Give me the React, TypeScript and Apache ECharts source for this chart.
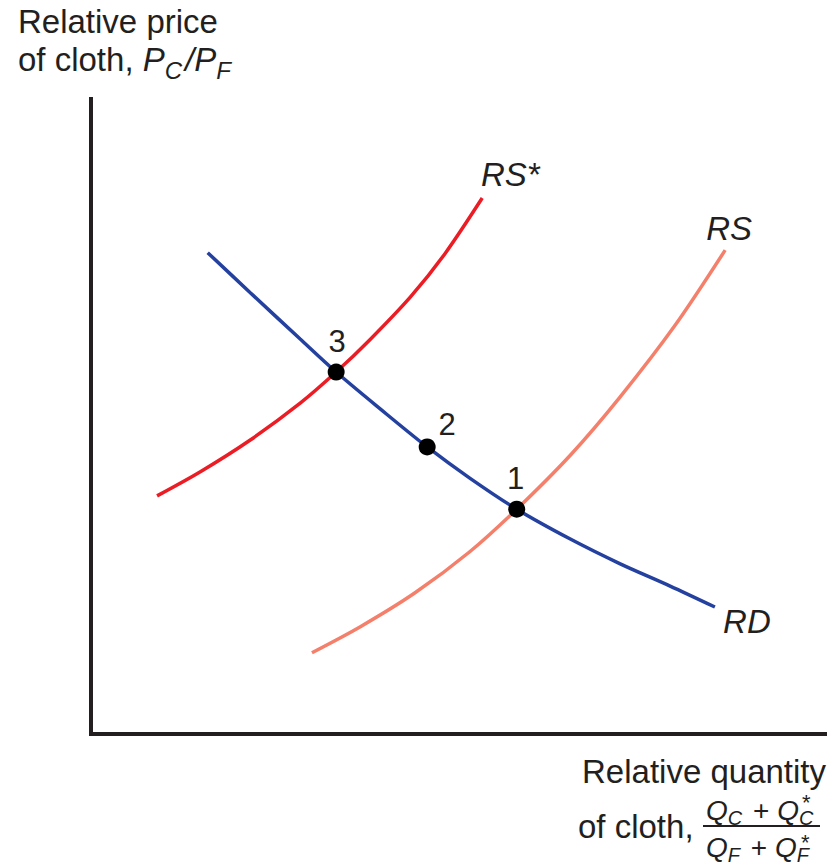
import React, { useEffect, useRef } from 'react';
import * as echarts from 'echarts';

// Relative demand RD
const rdX = [1.59, 2.17, 2.85, 3.34, 3.94, 4.58, 5.16, 5.80, 6.53, 7.21, 7.89, 8.50];
const rdY = [7.58, 6.95, 6.22, 5.70, 5.12, 4.52, 4.03, 3.54, 3.07, 2.68, 2.33, 2.00];
// Relative supply after change RS*
const rsStarX = [0.90, 1.49, 2.17, 2.85, 3.34, 3.80, 4.35, 4.82, 5.33];
const rsStarY = [3.75, 4.13, 4.63, 5.21, 5.70, 6.21, 6.88, 7.56, 8.44];
// Relative supply RS
const rsX = [3.01, 3.67, 4.41, 5.16, 5.80, 6.53, 7.21, 7.96, 8.64];
const rsY = [1.28, 1.69, 2.22, 2.87, 3.54, 4.39, 5.31, 6.44, 7.62];
// Equilibrium points
const eqNames = ['3', '2', '1'];
const eqX = [3.34, 4.58, 5.80];
const eqY = [5.70, 4.52, 3.54];
const curveNames = ['RD', 'RS*', 'RS'];

const FONT = '"Liberation Sans", Arial, Helvetica, sans-serif';
const INK = '#231f20';

const zip = (xs: number[], ys: number[]) => xs.map((x, i) => [x, ys[i]]);

export default function App() {
  const ref = useRef<HTMLDivElement>(null);
  useEffect(() => {
    if (!ref.current) return;
    const chart = echarts.init(ref.current, undefined, { renderer: 'svg' });
    const axisCommon = {
      type: 'value' as const,
      min: 0,
      max: 10,
      axisLine: { show: true, onZero: false, lineStyle: { color: INK, width: 4, cap: 'square' } },
      axisTick: { show: false },
      axisLabel: { show: false },
      splitLine: { show: false },
    };
    const endLabel = (text: string, offset: number[]) => ({
      show: true,
      formatter: text,
      fontFamily: FONT,
      fontSize: 33,
      fontStyle: 'italic',
      color: INK,
      align: 'center',
      verticalAlign: 'middle',
      distance: 0,
      offset,
    });
    const sub = (size: number, pad: number, lh: number) => ({
      fontFamily: FONT, fontStyle: 'italic', fontSize: size, fill: INK, color: INK, lineHeight: lh, padding: [pad, 3, 0, 0],
    });
    const it = (size: number, lh: number) => ({ fontFamily: FONT, fontStyle: 'italic', fontSize: size, fill: INK, color: INK, lineHeight: lh });
    const nm = (size: number, lh: number) => ({ fontFamily: FONT, fontSize: size, fill: INK, color: INK, lineHeight: lh });
    const fracRich = { q: it(28, 32), s: sub(20, 16, 32), n: nm(28, 32) };

    const eqOffsets = [[1, -31], [20, -22], [-1, -31]];

    chart.setOption({
      animation: false,
      backgroundColor: '#ffffff',
      grid: { left: 91, right: 8, top: 99, bottom: 132 },
      xAxis: axisCommon,
      yAxis: axisCommon,
      series: [
        {
          name: curveNames[0],
          type: 'line',
          data: zip(rdX, rdY),
          smooth: 0.3,
          showSymbol: false,
          lineStyle: { color: '#2441a0', width: 3.5 },
          endLabel: endLabel(curveNames[0], [32, 14]),
          z: 3,
        },
        {
          name: curveNames[1],
          type: 'line',
          data: zip(rsStarX, rsStarY),
          smooth: 0.3,
          showSymbol: false,
          lineStyle: { color: '#ec1c24', width: 3.5 },
          endLabel: endLabel(curveNames[1], [28, -24]),
          z: 2,
        },
        {
          name: curveNames[2],
          type: 'line',
          data: zip(rsX, rsY),
          smooth: 0.3,
          showSymbol: false,
          lineStyle: { color: '#f4806c', width: 3.5 },
          endLabel: endLabel(curveNames[2], [4, -22]),
          z: 2,
        },
        {
          type: 'scatter',
          symbolSize: 17,
          itemStyle: { color: '#000000', opacity: 1 },
          z: 5,
          data: eqNames.map((n, i) => ({
            name: n,
            value: [eqX[i], eqY[i]],
            label: {
              show: true,
              formatter: n,
              position: 'inside',
              offset: eqOffsets[i],
              fontFamily: FONT,
              fontSize: 31,
              color: INK,
              opacity: 1,
            },
          })),
        },
      ],
      graphic: [
        {
          type: 'text',
          left: 18,
          top: 2,
          style: {
            text: 'Relative price\nof cloth, {i|P}{s|C}{i|/P}{s|F}',
            fontFamily: FONT,
            fontSize: 33,
            lineHeight: 38,
            fill: INK,
            rich: { i: it(33, 38), s: sub(24, 22, 38), n: nm(33, 38) },
          },
        },
        {
          type: 'text',
          right: 7,
          top: 755,
          style: { text: 'Relative quantity', fontFamily: FONT, fontSize: 33, fill: INK },
        },
        {
          type: 'text',
          left: 578,
          top: 810,
          style: { text: 'of cloth,', fontFamily: FONT, fontSize: 33, fill: INK },
        },
        {
          type: 'text',
          left: 706,
          top: 792,
          style: {
            text: '{q|Q}{s|C}{n| + }{q|Q}{s|C}',
            fontFamily: FONT,
            fontSize: 28,
            fill: INK,
            rich: fracRich,
          },
        },
        {
          type: 'text',
          left: 802,
          top: 791,
          style: { text: '*', fontFamily: FONT, fontSize: 22, fill: INK },
        },
        {
          type: 'line',
          shape: { x1: 703, y1: 826, x2: 820, y2: 826 },
          style: { stroke: INK, lineWidth: 2 },
        },
        {
          type: 'text',
          left: 706,
          top: 829,
          style: {
            text: '{q|Q}{s|F}{n| + }{q|Q}{s|F}',
            fontFamily: FONT,
            fontSize: 28,
            fill: INK,
            rich: fracRich,
          },
        },
        {
          type: 'text',
          left: 801,
          top: 831,
          style: { text: '*', fontFamily: FONT, fontSize: 22, fill: INK },
        },
      ],
    });
    return () => chart.dispose();
  }, []);
  return (
    <div
      ref={ref}
      style={{ position: 'absolute', left: 0, top: 0, width: 833, height: 866, background: '#fff' }}
    />
  );
}
